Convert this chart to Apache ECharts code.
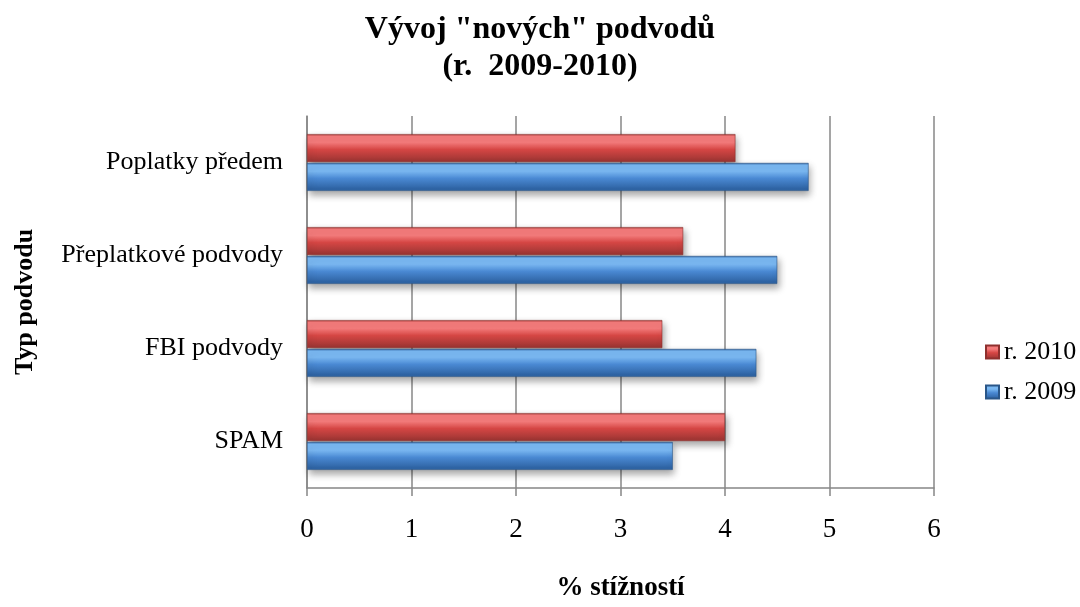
<!DOCTYPE html>
<html>
<head>
<meta charset="utf-8">
<script src="https://cdn.jsdelivr.net/npm/echarts@6/dist/echarts.min.js"></script>
<style>
  html, body { margin: 0; padding: 0; background: #ffffff; }
  #chart { width: 1080px; height: 607px; }
</style>
</head>
<body>
<div id="chart"></div>
<script>
// Fraud categories (top to bottom) and the share of complaints per year
const categories = ['Poplatky předem', 'Přeplatkové podvody', 'FBI podvody', 'SPAM'];
const values2010 = [4.1, 3.6, 3.4, 4.0];
const values2009 = [4.8, 4.5, 4.3, 3.5];
const xTicks = [0, 1, 2, 3, 4, 5, 6];

const serif = '"Liberation Serif", "Times New Roman", serif';

// Vertical bevel-like gradients for the bars
function bevel(light, mid, dark) {
  return new echarts.graphic.LinearGradient(0, 0, 0, 1, [
    { offset: 0, color: dark },
    { offset: 0.08, color: light },
    { offset: 0.3, color: light },
    { offset: 0.55, color: mid },
    { offset: 0.92, color: dark },
    { offset: 1, color: dark }
  ]);
}
const redFill = bevel('#f47b7b', '#d54644', '#a23735');
const blueFill = bevel('#7ab8f2', '#4a89d3', '#2f64a4');

const chart = echarts.init(document.getElementById('chart'));
chart.setOption({
  animation: false,
  backgroundColor: '#ffffff',
  title: {
    text: 'Vývoj "nových" podvodů\n(r.  2009-2010)',
    left: 'center',
    top: 6,
    textStyle: {
      fontFamily: serif,
      fontSize: 32,
      fontWeight: 'bold',
      color: '#000',
      lineHeight: 37
    }
  },
  legend: {
    orient: 'vertical',
    left: 980,
    top: 334,
    itemWidth: 13,
    itemHeight: 13,
    itemGap: 14,
    icon: 'rect',
    textStyle: { fontFamily: serif, fontSize: 26, color: '#000' },
    data: ['r. 2010', 'r. 2009']
  },
  grid: {
    left: 307,
    right: 146,
    top: 116,
    bottom: 102,
    containLabel: false
  },
  xAxis: {
    type: 'value',
    min: 0,
    max: 6,
    interval: 1,
    name: '% stížností',
    nameLocation: 'middle',
    nameGap: 87,
    nameTextStyle: { fontFamily: serif, fontSize: 27, fontWeight: 'bold', color: '#000' },
    axisLine: { show: true, lineStyle: { color: '#878787', width: 1.5 } },
    axisTick: { show: true, length: 8, lineStyle: { color: '#878787', width: 1.5 } },
    axisLabel: {
      fontFamily: serif, fontSize: 27, color: '#000', margin: 28,
      formatter: function (v) { return xTicks.indexOf(v) >= 0 ? String(v) : ''; }
    },
    splitLine: { show: true, lineStyle: { color: '#878787', width: 1.5 } }
  },
  yAxis: {
    type: 'category',
    inverse: true,
    data: categories,
    name: 'Typ podvodu',
    nameLocation: 'middle',
    nameGap: 269,
    nameRotate: 90,
    nameTextStyle: { fontFamily: serif, fontSize: 26, fontWeight: 'bold', color: '#000' },
    axisLine: { show: true, lineStyle: { color: '#878787', width: 1.5 } },
    axisTick: { show: false },
    axisLabel: { fontFamily: serif, fontSize: 26, color: '#000', margin: 24 },
    splitLine: { show: false }
  },
  series: [
    {
      name: 'r. 2010',
      type: 'bar',
      data: values2010,
      barWidth: 28,
      barGap: '3%',
      itemStyle: {
        color: redFill,
        borderColor: '#8e302e',
        borderWidth: 0.6,
        shadowColor: 'rgba(0,0,0,0.35)',
        shadowBlur: 7,
        shadowOffsetX: 2,
        shadowOffsetY: 4
      }
    },
    {
      name: 'r. 2009',
      type: 'bar',
      data: values2009,
      barWidth: 28,
      barGap: '3%',
      itemStyle: {
        color: blueFill,
        borderColor: '#2a5688',
        borderWidth: 0.6,
        shadowColor: 'rgba(0,0,0,0.35)',
        shadowBlur: 7,
        shadowOffsetX: 2,
        shadowOffsetY: 4
      }
    }
  ]
});
</script>
</body>
</html>
